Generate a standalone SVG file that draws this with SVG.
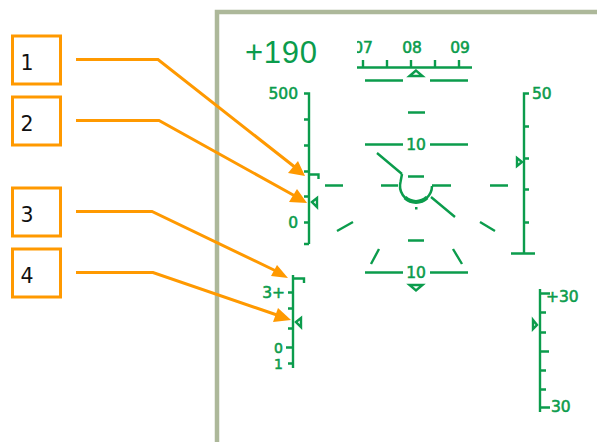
<svg xmlns="http://www.w3.org/2000/svg" width="597" height="442" viewBox="0 0 597 442">
<style>
.g{fill:none;stroke:#0b9c4c;stroke-width:2.4}
.tri{fill:none;stroke:#0b9c4c;stroke-width:2.4}
.t{fill:#0b9c4c;stroke:#0b9c4c;stroke-width:.55;font-family:"DejaVu Sans",sans-serif;font-size:15.5px}
.s{font-size:14px}
.c{text-anchor:middle}
.e{text-anchor:end}
.box{fill:#fff;stroke:#ff9900;stroke-width:3}
.n{fill:#111;font-family:"DejaVu Sans",sans-serif;font-size:20.5px;text-anchor:middle}
.l{fill:none;stroke:#ff9900;stroke-width:3}
.h{fill:#ff9900}
</style>
<defs><clipPath id="hc"><rect x="357" y="30" width="130" height="40"/></clipPath></defs>
<rect width="597" height="442" fill="#fff"/>
<path id="frame" d="M217 442V12H597" fill="none" stroke="#adb89a" stroke-width="4.5"/>
<g id="speed-readout"><text x="245" y="63" textLength="72" style="fill:#0b9c4c;font-family:'Liberation Sans',sans-serif;font-size:31px">+190</text></g>
<g id="heading-scale">
<path class="g" d="M357 67.500H472M363 60V67M387 60V67M411 60V67M435 60V67M459 60V67"/>
<g clip-path="url(#hc)"><text class="t c" x="363" y="53">07</text></g>
<text class="t c" x="412" y="53">08</text><text class="t c" x="460" y="53">09</text>
<path class="tri" d="M416 70.500L409.500 76H422.500Z"/>
</g>
<g id="pitch-ladder">
<path class="g" d="M365 80.500H403M430 80.500H468M408 112.500H425M365 144.500H403M430 144.500H468M408 176.500H424M325 185.500H343M381 185.500H398M432 185.500H451M490 185.500H508M337 231L353 222M480 222L495 231M408 240.500H424M379 249L371 264M453 249L462 264M365 272.500H403M430 272.500H468"/>
<text class="t c" x="416" y="150">10</text><text class="t c" x="416" y="278">10</text>
<path class="tri" d="M409.500 285H422.500L416 290.500Z"/>
</g>
<g id="velocity-vector">
<path class="g" d="M377 153L402 174M431 197L455 217"/>
<path d="M402 174L400.500 182A16 16 0 1 0 432 186" fill="none" stroke="#0b9c4c" stroke-width="2.500"/>
<path d="M405 197.500A16 16 0 0 0 427 197.500" fill="none" stroke="#0b9c4c" stroke-width="4"/>
<rect x="415" y="207" width="2.500" height="2.500" fill="#0b9c4c"/>
</g>
<g id="airspeed-scale">
<path class="g" d="M304 93.500H309V244M304 119.500H309M304 145.500H309M304 171.500H309M304 196.500H309M304 222.500H309M304 244H309M309 174.500H318.500V179"/>
<path class="tri" d="M312 202L317 198V207Z"/>
<text class="t e" x="298" y="99">500</text><text class="t e" x="298" y="228">0</text>
</g>
<g id="g-scale">
<path class="g" d="M293 275V368M293 278.500H304V283M288 292.500H293M288 308.500H293M288 328.500H293M286 347.500H293M288 363.500H293"/>
<path class="tri" d="M296 322L301 318V327Z"/>
<text class="t e" x="285" y="298">3+</text><text class="t e s" x="283" y="352.500">0</text><text class="t e s" x="283" y="369">1</text>
</g>
<g id="altitude-scale">
<path class="g" d="M529 93.500H524V253M524 126.500H529M524 158.500H529M524 189.500H529M524 222.500H529M511 253.500H535"/>
<path class="tri" d="M517 158V166L522 162Z"/>
<text class="t" x="532" y="99">50</text>
</g>
<g id="bank-scale">
<path class="g" d="M540 289V412M540 293.500H550M540 312.500H546M540 332.500H546M540 351.500H549M540 370.500H546M540 389.500H546M540 407.500H550"/>
<path class="tri" d="M533 320V329L537 325Z"/>
<text class="t" x="546" y="302">+30</text><text class="t" x="551" y="412">30</text>
</g>
<g id="connectors">
<path class="l" d="M76 59.500H158L296 168"/><path class="h" d="M305 176L288 173L298 161Z"/>
<path class="l" d="M76 120.500H159L295 196"/><path class="h" d="M307 203L289 202L297 189Z"/>
<path class="l" d="M76 211.500H152L276 271"/><path class="h" d="M288 278L271 276L277 265Z"/>
<path class="l" d="M76 272.500H153L277 315"/><path class="h" d="M291 320L273 322L278 308Z"/>
</g>
<g id="callout-1"><rect class="box" x="12.500" y="36" width="48" height="48"/><text class="n" x="27" y="70">1</text></g>
<g id="callout-2"><rect class="box" x="12.500" y="97" width="48" height="48"/><text class="n" x="27" y="131">2</text></g>
<g id="callout-3"><rect class="box" x="12.500" y="188" width="48" height="48"/><text class="n" x="27" y="222">3</text></g>
<g id="callout-4"><rect class="box" x="12.500" y="249" width="48" height="48"/><text class="n" x="27" y="283">4</text></g>
</svg>
